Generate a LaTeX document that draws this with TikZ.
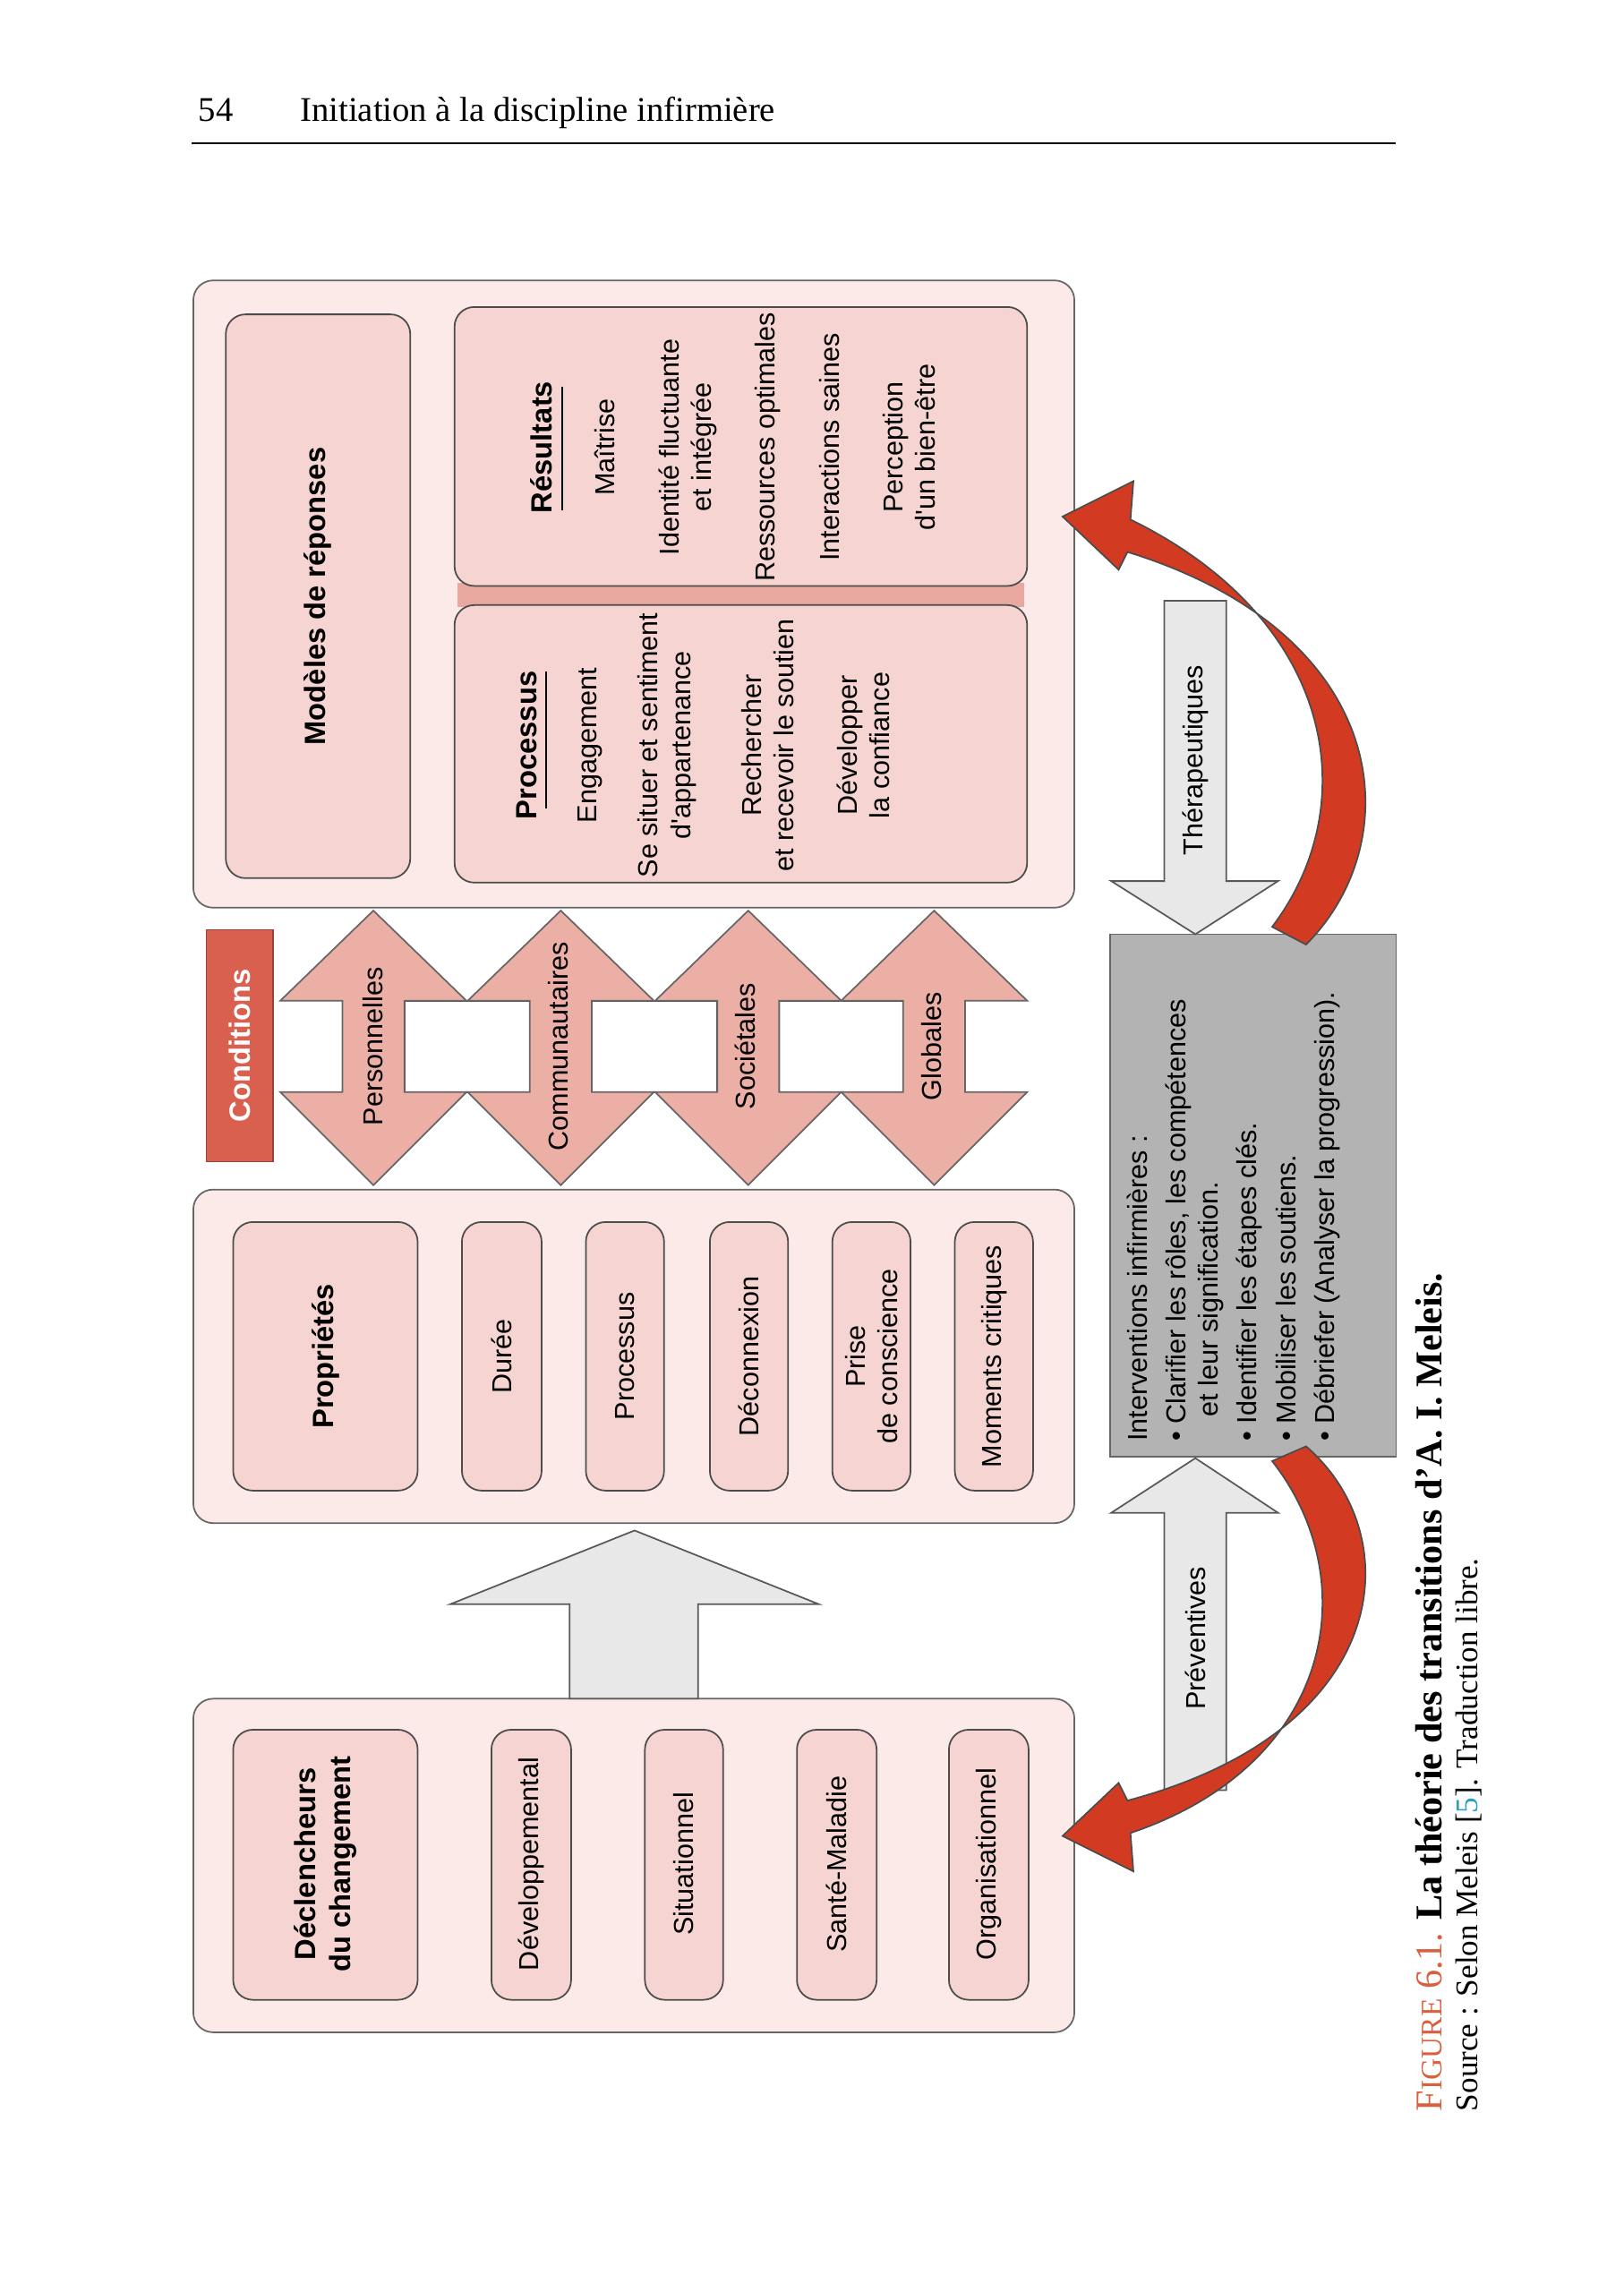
\documentclass[tikz,border=0pt]{standalone}
\usepackage{fontspec}
\setmainfont{Liberation Serif}
\newfontfamily\diasf{Liberation Sans}
\definecolor{bgpink}{HTML}{FBEAE8}
\definecolor{inpink}{HTML}{F5D4D1}
\definecolor{arpink}{HTML}{EBAFA6}
\definecolor{condred}{HTML}{D9604F}
\definecolor{gbox}{HTML}{B3B3B3}
\definecolor{lgray}{HTML}{E8E8E8}
\definecolor{bred}{HTML}{D33A22}
\definecolor{stripe}{HTML}{E8A8A0}
\definecolor{capred}{HTML}{D9603F}
\definecolor{refblue}{HTML}{2A9FC0}
\begin{document}
\begin{tikzpicture}[x=0.01648cm,y=-0.01648cm,
  outer/.style={draw=gray!80!black,fill=bgpink,rounded corners=2.2mm,line width=0.5pt},
  inner/.style={draw=gray!60!black,fill=inpink,rounded corners=2.2mm,line width=0.5pt},
  txt/.style={font=\diasf\fontsize{8.7}{10.3}\selectfont,rotate=90,align=center},
  btxt/.style={font=\diasf\bfseries\fontsize{9.3}{11}\selectfont,rotate=90,align=center},
  garrow/.style={draw=gray!70!black,fill=lgray,line width=0.5pt},
  redarrow/.style={draw=black!70,fill=bred,line width=0.5pt}]
\useasboundingbox (0,0) rectangle (1100,1553);
% header
\node[anchor=base west,font=\fontsize{11}{13}\selectfont] (pg) at (127,82) {54};
\node[anchor=base west,font=\fontsize{11}{13}\selectfont] (hd) at (196,82) {Initiation à la discipline infirmière};
\draw[line width=0.6pt] (130,97) -- (946,97);
% box 1
\draw[outer] (131,190) rectangle (728,615);
\draw[inner] (153,213) rectangle (278,595);
\node[btxt] (mr) at (215.5,404) {Modèles de réponses};
\fill[stripe] (310,395) rectangle (694,411);
\draw[inner] (308,208) rectangle (696,397);
\draw[inner] (308,410) rectangle (696,598);
\node[btxt] (pr) at (357,505) {Processus};
\draw[line width=0.6pt] (370,455) -- (370,548);
\node[txt] (p1) at (400,505) {Engagement};
\node[txt] (p2) at (452,505) {Se situer et sentiment\\d'appartenance};
\node[txt] (p3) at (520,505) {Rechercher\\et recevoir le soutien};
\node[txt] (p4) at (585,505) {Développer\\la confiance};
\node[btxt] (rs) at (367,303) {Résultats};
\draw[line width=0.6pt] (381,262) -- (381,346);
\node[txt] (r1) at (410,303) {Maîtrise};
\node[txt] (r2) at (466,303) {Identité fluctuante\\et intégrée};
\node[txt] (r3) at (520,303) {Ressources optimales};
\node[txt] (r4) at (562,303) {Interactions saines};
\node[txt] (r5) at (616,303) {Perception\\d'un bien-être};
% box 2
\draw[outer] (131,806) rectangle (728,1032);
\draw[inner] (158,828) rectangle (283,1010);
\node[btxt] (pp) at (220.5,919) {Propriétés};
\draw[inner] (313,828) rectangle (367,1010); \node[txt] (d1) at (340,919) {Durée};
\draw[inner] (397,828) rectangle (450,1010); \node[txt] (d2) at (423.5,919) {Processus};
\draw[inner] (481,828) rectangle (534,1010); \node[txt] (d3) at (507.5,919) {Déconnexion};
\draw[inner] (564,828) rectangle (617,1010); \node[txt] (d4) at (590.5,919) {Prise\\de conscience};
\draw[inner] (647,828) rectangle (700,1010); \node[txt] (d5) at (673.5,919) {Moments critiques};
% box 3
\draw[outer] (131,1151) rectangle (728,1377);
\draw[inner] (158,1172) rectangle (283,1355);
\node[btxt] (dc) at (220.5,1263) {Déclencheurs\\du changement};
\draw[inner] (333,1172) rectangle (387,1355); \node[txt] (e1) at (360,1263) {Développemental};
\draw[inner] (437,1172) rectangle (490,1355); \node[txt] (e2) at (463.5,1263) {Situationnel};
\draw[inner] (540,1172) rectangle (594,1355); \node[txt] (e3) at (567,1263) {Santé-Maladie};
\draw[inner] (643,1172) rectangle (697,1355); \node[txt] (e4) at (670,1263) {Organisationnel};
% big up arrow
\draw[garrow] (430,1037) -- (555,1087) -- (473,1087) -- (473,1151) -- (386,1151) -- (386,1087) -- (305,1087) -- cycle;
% conditions
\node[draw=condred!70!black,fill=condred,minimum width=157*0.01648cm,minimum height=45*0.01648cm,rotate=90,font=\diasf\bfseries\fontsize{9.3}{11}\selectfont,text=white] (cond) at (162.5,708.5) {Conditions};
\foreach \a/\b in {274/359,401/486,528/612}
  \draw[draw=black!70,fill=white,line width=0.5pt] (\a,678) rectangle (\b,740);
\foreach \cx in {253,380,507,633}
  \draw[draw=black!60,fill=arpink,line width=0.5pt] (\cx,617) -- (\cx+63,678) -- (\cx+21,678) -- (\cx+21,740) -- (\cx+63,740) -- (\cx,803) -- (\cx-63,740) -- (\cx-21,740) -- (\cx-21,678) -- (\cx-63,678) -- cycle;
\node[txt] (c1) at (253,709) {Personnelles};
\node[txt] (c2) at (378,709) {Communautaires};
\node[txt] (c3) at (505,709) {Sociétales};
\node[txt] (c4) at (631,709) {Globales};
% gray box
\draw[draw=black!60,fill=gbox,line width=0.5pt] (752,633) rectangle (946,987);
\node[rotate=90,anchor=north west,align=left,font=\diasf\fontsize{8.7}{10.3}\selectfont] (iv) at (756,984)
 {Interventions infirmières :\\[2pt]
  • Clarifier les rôles, les compétences\\
  \hspace{0.9em}et leur signification.\\[2pt]
  • Identifier les étapes clés.\\[2pt]
  • Mobiliser les soutiens.\\[2pt]
  • Débriefer (Analyser la progression).};
% therapeutic / preventive arrows
\draw[garrow] (789,407) -- (831,407) -- (831,597) -- (866,597) -- (810,633) -- (753,597) -- (789,597) -- cycle;
\node[txt] (th) at (810,515) {Thérapeutiques};
\draw[garrow] (810,988) -- (866,1025) -- (831,1025) -- (831,1213) -- (789,1213) -- (789,1025) -- (753,1025) -- cycle;
\node[txt] (pv) at (810,1110) {Préventives};
% red curved arrows
\draw[redarrow] (862,628) .. controls (925,545) and (905,420) .. (766,352) -- (768,326) -- (720,350) -- (758,386) -- (764,374) .. controls (945,430) and (955,570) .. (885,640) -- cycle;
\draw[redarrow] (862,990) .. controls (925,1070) and (905,1195) .. (766,1242) -- (768,1268) -- (720,1244) -- (758,1208) -- (764,1220) .. controls (945,1172) and (955,1040) .. (885,980) -- cycle;
% caption
\node[rotate=90,anchor=base west,font=\fontsize{12}{14}\selectfont] (cap) at (977,1438)
 {{\color{capred}F{\fontsize{9.5}{11}\selectfont IGURE} 6.1.} \textbf{La théorie des transitions d'A. I. Meleis.}};
\node[rotate=90,anchor=base west,font=\fontsize{10}{12}\selectfont] (src) at (1001,1438)
 {Source : Selon Meleis [{\color{refblue}5}]. Traduction libre.};
\end{tikzpicture}
\end{document}
